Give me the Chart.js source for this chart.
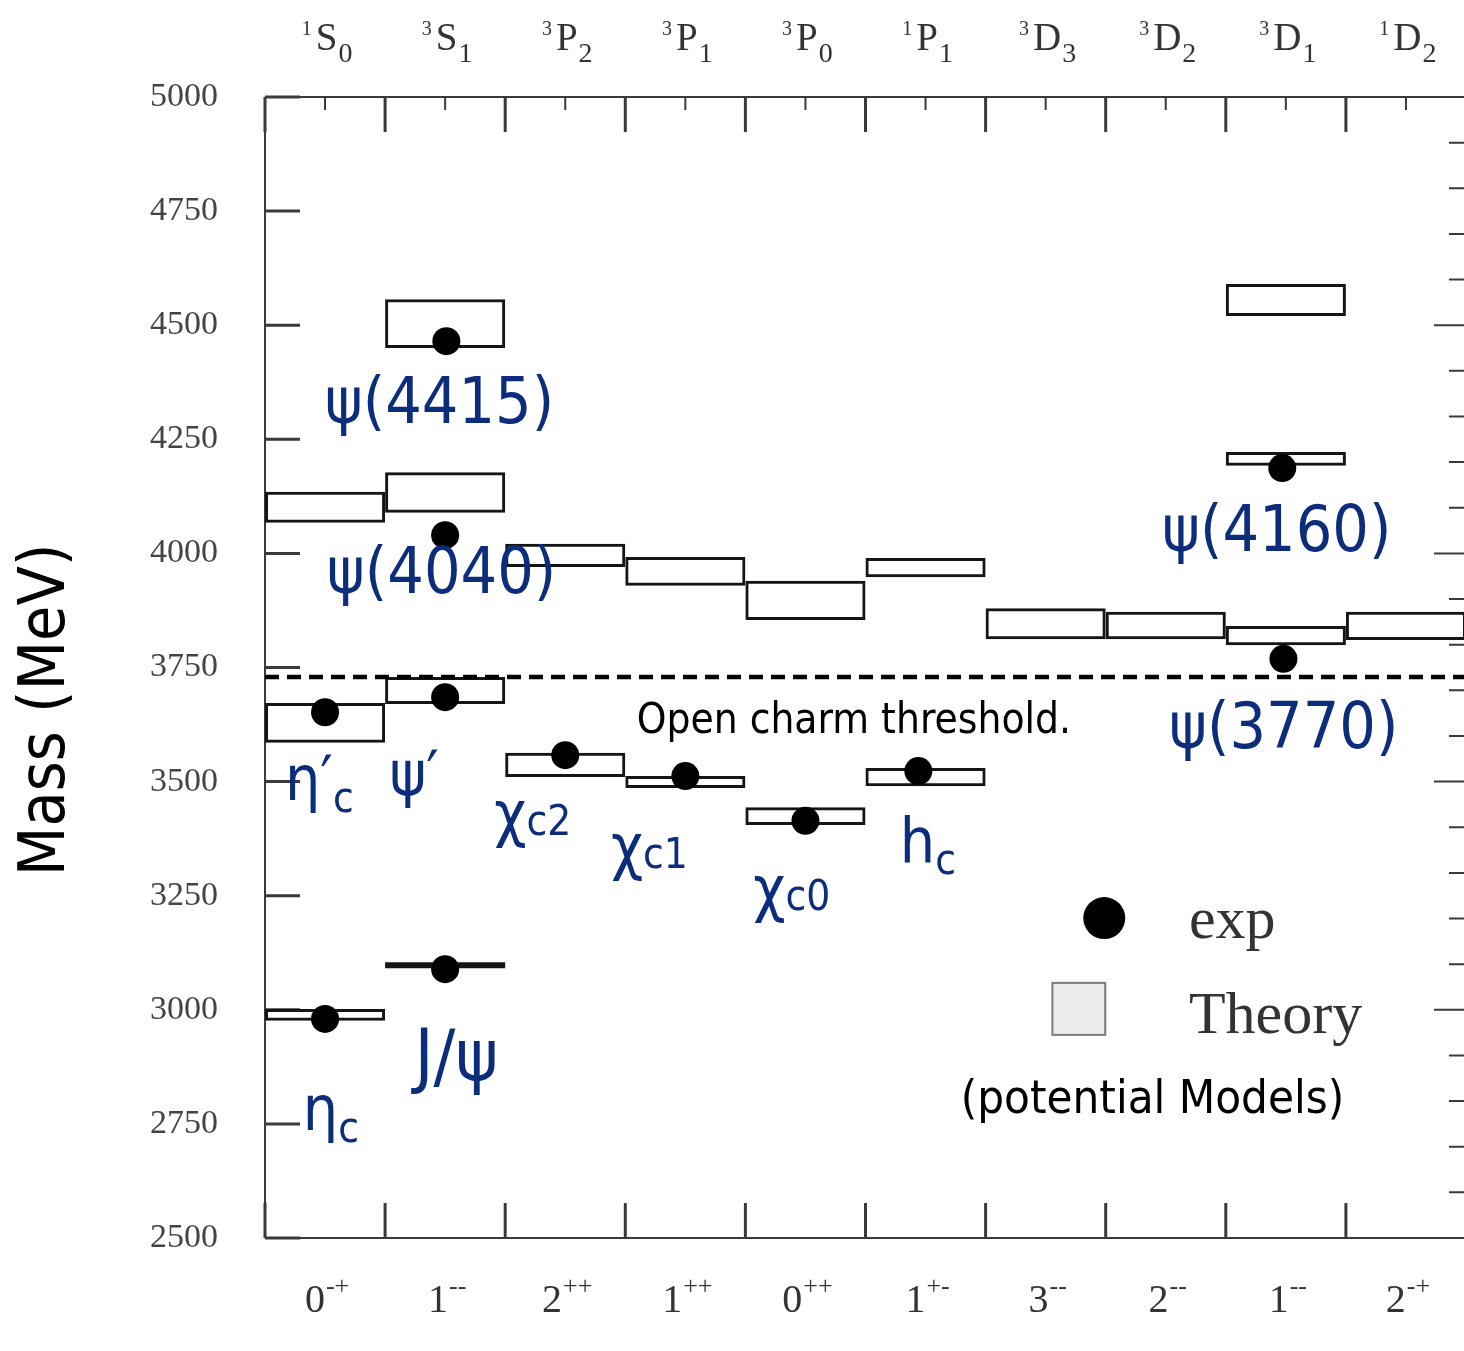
<!DOCTYPE html>
<html>
<head>
<meta charset="utf-8">
<title>Charmonium spectrum</title>
<script src="https://cdn.jsdelivr.net/npm/chart.js@4.4.1/dist/chart.umd.min.js"></script>
<style>
  html, body { margin: 0; padding: 0; background: #fff; overflow: hidden; }
  #wrap { width: 1480px; height: 1351px; }
</style>
</head>
<body>
<div id="wrap"><canvas id="chart" width="1480" height="1351"></canvas></div>
<script>
// Columns: spectroscopic term (2S+1)L_J on top, J^PC underneath
const multiplicity = [1, 3, 3, 3, 3, 1, 3, 3, 3, 1];
const orbital      = ['S', 'S', 'P', 'P', 'P', 'P', 'D', 'D', 'D', 'D'];
const totalJ       = [0, 1, 2, 1, 0, 1, 3, 2, 1, 2];
const parityC      = ['-+', '--', '++', '++', '++', '+-', '--', '--', '--', '-+'];

// Mass axis ticks (MeV)
const massTicks = [2500, 2750, 3000, 3250, 3500, 3750, 4000, 4250, 4500, 4750, 5000];

// Potential-model predictions: column and mass band (MeV)
const theoryCol  = [0, 0, 0, 1, 1, 1, 1, 2, 2, 3, 3, 4, 4, 5, 5, 6, 7, 8, 8, 8, 9];
const theoryLow  = [2976, 3585, 4067, 3091, 3670, 4089, 4450, 3510, 3970, 3486, 3929, 3405, 3854, 3490, 3948, 3812, 3812, 3799, 4192, 4520, 3810];
const theoryHigh = [3002, 3672, 4135, 3104, 3729, 4178, 4557, 3563, 4021, 3512, 3992, 3444, 3940, 3530, 3990, 3880, 3872, 3841, 4222, 4590, 3872];

// Measured states
const expNames = ['ηc', 'J/ψ', 'η′c', 'ψ′', 'ψ(4040)', 'ψ(4415)', 'χc2', 'χc1', 'χc0', 'hc', 'ψ(3770)', 'ψ(4160)'];
const expCol   = [0.5, 1.5, 0.5, 1.5, 1.5, 1.51, 2.5, 3.5, 4.5, 5.44, 8.48, 8.47];
const expMass  = [2980, 3089, 3652, 3685, 4040, 4465, 3558, 3512, 3414, 3523, 3769, 4187];

// D Dbar threshold (MeV)
const openCharmThreshold = 3729;

const SERIF = "'Liberation Serif', 'Times New Roman', serif";
const SANS = "'DejaVu Sans Condensed', 'DejaVu Sans', sans-serif";
const BLUE = '#0c2d7c';
const AXIS = '#3a3a3a';
const BOX = '#151515';

// Where each state's name is written: [column units, mass] of the text baseline start
const nameLayout = {
  'ψ(4415)': { col: 0.498, m: 4286, parts: [['ψ(4415)', 64]] },
  'ψ(4040)': { col: 0.515, m: 3913, parts: [['ψ(4040)', 64]] },
  'ψ(4160)': { col: 7.469, m: 4005, parts: [['ψ(4160)', 64]] },
  'ψ(3770)': { col: 7.527, m: 3574, parts: [['ψ(3770)', 64]] },
  'η′c':     { col: 0.166, m: 3460, parts: [['η′', 62], ['c', 42, 12]] },
  'ψ′':      { col: 1.037, m: 3471, parts: [['ψ′', 62]] },
  'χc2':     { col: 1.909, m: 3383, parts: [['χ', 62], ['c2', 42]] },
  'χc1':     { col: 2.880, m: 3311, parts: [['χ', 62], ['c1', 42]] },
  'χc0':     { col: 4.066, m: 3219, parts: [['χ', 62], ['c0', 42]] },
  'hc':      { col: 5.286, m: 3324, parts: [['h', 62], ['c', 42, 12]] },
  'J/ψ':     { col: 1.245, m: 2846, parts: [['J/ψ', 72]] },
  'ηc':      { col: 0.315, m: 2737, parts: [['η', 62], ['c', 42, 12]] }
};

function partsWidth(ctx, parts) {
  let w = 0;
  for (const p of parts) { ctx.font = p.font; w += ctx.measureText(p.t).width + (p.gap || 0); }
  return w;
}
function drawParts(ctx, parts, x, y, center) {
  let cx = center ? x - partsWidth(ctx, parts) / 2 : x;
  ctx.textAlign = 'left';
  ctx.textBaseline = 'alphabetic';
  for (const p of parts) {
    cx += p.gap || 0;
    ctx.font = p.font;
    ctx.fillStyle = p.color;
    ctx.fillText(p.t, cx, y + (p.dy || 0));
    cx += ctx.measureText(p.t).width;
  }
}

// a band too thin to show an inside is drawn as a solid bar
const isThin = i => i !== undefined && theoryHigh[i] - theoryLow[i] < 15;

// Box frame and tick marks on all four sides
const framePlugin = {
  id: 'frame',
  beforeDatasetsDraw(chart) {
    const { ctx, chartArea: a, scales: { x, y } } = chart;
    ctx.save();
    ctx.strokeStyle = AXIS;
    ctx.lineWidth = 2;
    ctx.beginPath();
    ctx.moveTo(a.left, a.top); ctx.lineTo(a.left, a.bottom);
    ctx.moveTo(a.left, a.top); ctx.lineTo(a.right, a.top);
    ctx.moveTo(a.left, a.bottom); ctx.lineTo(a.right, a.bottom);
    ctx.moveTo(a.right, a.top); ctx.lineTo(a.right, a.bottom);
    ctx.stroke();

    ctx.lineWidth = 3;
    ctx.beginPath();
    for (const m of massTicks) {
      const py = y.getPixelForValue(m);
      ctx.moveTo(a.left, py); ctx.lineTo(a.left + 35, py);
    }
    for (let i = 0; i <= multiplicity.length; i++) {
      const px = x.getPixelForValue(i);
      ctx.moveTo(px, a.top); ctx.lineTo(px, a.top + 35);
      ctx.moveTo(px, a.bottom); ctx.lineTo(px, a.bottom - 35);
    }
    ctx.stroke();

    ctx.lineWidth = 2;
    ctx.beginPath();
    for (let i = 0; i < multiplicity.length; i++) {
      const px = x.getPixelForValue(i + 0.5);
      ctx.moveTo(px, a.top); ctx.lineTo(px, a.top + 13);
    }
    for (let m = 2500; m <= 5000; m += 100) {
      const py = y.getPixelForValue(m);
      const len = m % 500 === 0 ? 32 : 17;
      ctx.moveTo(a.right, py); ctx.lineTo(a.right - len, py);
    }
    ctx.stroke();
    ctx.restore();
  }
};

// Term labels, J^PC labels, state names, threshold note, legend and axis title
const textPlugin = {
  id: 'texts',
  afterDatasetsDraw(chart) {
    const { ctx, chartArea: a, scales: { x, y } } = chart;
    ctx.save();

    for (let i = 0; i < multiplicity.length; i++) {
      const cx = x.getPixelForValue(i + 0.5);
      drawParts(ctx, [
        { t: String(multiplicity[i]), font: `20px ${SERIF}`, dy: -15, color: '#333' },
        { t: orbital[i], font: `39px ${SERIF}`, gap: 4, color: '#333' },
        { t: String(totalJ[i]), font: `28px ${SERIF}`, dy: 12, gap: 1, color: '#333' }
      ], cx + 2, a.top - 47, true);
      drawParts(ctx, [
        { t: String(totalJ[i]), font: `40px ${SERIF}`, color: '#333' },
        { t: parityC[i], font: `26px ${SERIF}`, dy: -18, gap: 1, color: '#333' }
      ], cx + 2, a.bottom + 74, true);
    }

    for (const name of expNames) {
      const L = nameLayout[name];
      if (!L) continue;
      const parts = L.parts.map(p => ({ t: p[0], font: `${p[1]}px ${SANS}`, dy: p[2] || 0, color: BLUE }));
      drawParts(ctx, parts, x.getPixelForValue(L.col), y.getPixelForValue(L.m), false);
    }

    drawParts(ctx, [{ t: 'Open charm threshold.', font: `42px ${SANS}`, color: '#000' }],
      x.getPixelForValue(3.095), y.getPixelForValue(3606), false);

    // legend
    ctx.fillStyle = '#000';
    ctx.beginPath();
    ctx.arc(x.getPixelForValue(6.988), y.getPixelForValue(3201), 21, 0, Math.PI * 2);
    ctx.fill();
    drawParts(ctx, [{ t: 'exp', font: `60px ${SERIF}`, color: '#333' }],
      x.getPixelForValue(7.693), y.getPixelForValue(3157), false);
    const sx0 = x.getPixelForValue(6.556), sx1 = x.getPixelForValue(6.996);
    const sy0 = y.getPixelForValue(3059), sy1 = y.getPixelForValue(2945);
    ctx.fillStyle = '#ececec';
    ctx.fillRect(sx0, sy0, sx1 - sx0, sy1 - sy0);
    ctx.strokeStyle = '#7a7a7a';
    ctx.lineWidth = 2;
    ctx.strokeRect(sx0, sy0, sx1 - sx0, sy1 - sy0);
    drawParts(ctx, [{ t: 'Theory', font: `60px ${SERIF}`, color: '#333' }],
      x.getPixelForValue(7.693), y.getPixelForValue(2949), false);
    drawParts(ctx, [{ t: '(potential Models)', font: `47px ${SANS}`, color: '#000' }],
      x.getPixelForValue(5.793), y.getPixelForValue(2774), false);

    // axis title
    ctx.translate(47, y.getPixelForValue(3657));
    ctx.rotate(-Math.PI / 2);
    ctx.font = `64px ${SANS}`;
    ctx.fillStyle = '#000';
    ctx.textAlign = 'center';
    ctx.textBaseline = 'middle';
    ctx.fillText('Mass (MeV)', 0, 0);
    ctx.restore();
  }
};

new Chart(document.getElementById('chart'), {
  type: 'bar',
  data: {
    datasets: [
      {
        type: 'scatter',
        label: 'exp',
        data: expCol.map((c, i) => ({ x: c, y: expMass[i] })),
        pointRadius: 14,
        pointBackgroundColor: '#000',
        pointBorderWidth: 0,
        order: 0
      },
      {
        type: 'line',
        label: 'Open charm threshold',
        data: [{ x: 0, y: openCharmThreshold }, { x: multiplicity.length, y: openCharmThreshold }],
        borderColor: '#000',
        borderWidth: 4.5,
        borderDash: [14, 8],
        pointRadius: 0,
        order: 1
      },
      {
        type: 'bar',
        label: 'Theory',
        data: theoryCol.map((c, i) => ({ x: c + 0.5, y: [theoryLow[i], theoryHigh[i]] })),
        backgroundColor: ctx => isThin(ctx.dataIndex) ? BOX : 'rgba(0,0,0,0)',
        borderWidth: ctx => isThin(ctx.dataIndex) ? 0 : 3,
        borderColor: BOX,
        borderSkipped: false,
        inflateAmount: 0,
        grouped: false,
        barPercentage: 1,
        categoryPercentage: 1,
        order: 2
      }
    ]
  },
  options: {
    responsive: false,
    animation: false,
    devicePixelRatio: 1,
    layout: { padding: { top: 97, bottom: 113, left: 0, right: 10 } },
    plugins: { legend: { display: false }, tooltip: { enabled: false } },
    scales: {
      x: { type: 'linear', min: 0, max: multiplicity.length, offset: false, display: false, ticks: { stepSize: 1 } },
      y: {
        type: 'linear',
        min: massTicks[0],
        max: massTicks[massTicks.length - 1],
        afterBuildTicks(s) { s.ticks = massTicks.map(v => ({ value: v })); },
        afterFit(s) { s.width = 265; },
        grid: { display: false, drawTicks: false },
        border: { display: false },
        ticks: {
          padding: 47,
          color: '#444',
          font: { family: SERIF, size: 34 },
          callback: v => String(v)
        }
      }
    }
  },
  plugins: [framePlugin, textPlugin]
});
</script>
</body>
</html>
